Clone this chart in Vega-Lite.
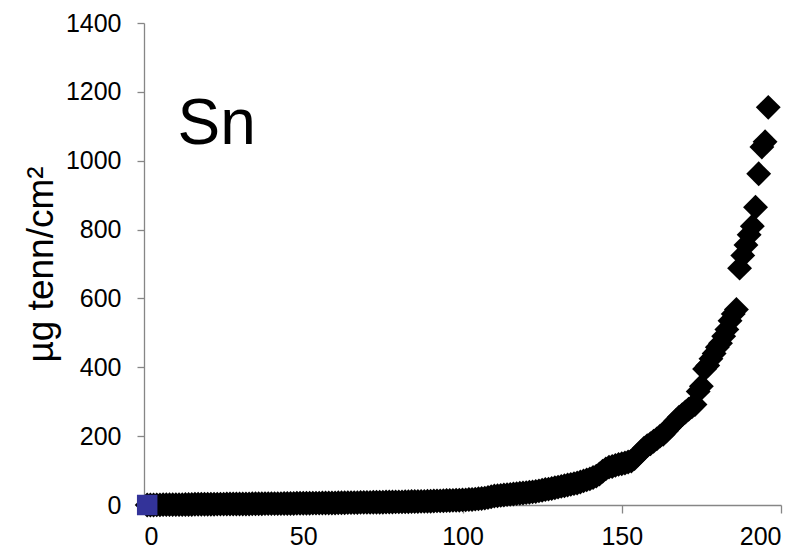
{
  "$schema": "https://vega.github.io/schema/vega-lite/v6.json",
  "autosize": "none",
  "width": 637,
  "height": 482,
  "padding": {"left": 144, "top": 23, "right": 27, "bottom": 45},
  "background": "white",
  "config": {
    "view": {"stroke": null},
    "font": "Liberation Sans",
    "axis": {
      "grid": false,
      "domainColor": "#868686",
      "tickColor": "#868686",
      "domainWidth": 1.3,
      "tickWidth": 1.3,
      "labelFont": "Liberation Sans",
      "labelFontSize": 25,
      "labelColor": "#000000",
      "titleFont": "Liberation Sans",
      "titleFontWeight": "normal",
      "titleColor": "#000000",
      "format": "d"
    },
    "axisX": {"tickSize": 8, "labelPadding": 11},
    "axisY": {"tickSize": 7, "labelPadding": 16, "titleFontSize": 37, "titlePadding": 5}
  },
  "datasets": {
    "sn": [
      {"n":1,"v":0},{"n":2,"v":0},{"n":3,"v":0},{"n":4,"v":0.5},{"n":5,"v":0.5},{"n":6,"v":1},{"n":7,"v":1},{"n":8,"v":1},{"n":9,"v":1},{"n":10,"v":1},
      {"n":11,"v":1},{"n":12,"v":1},{"n":13,"v":1.5},{"n":14,"v":1.5},{"n":15,"v":1.5},{"n":16,"v":2},{"n":17,"v":2},{"n":18,"v":2},{"n":19,"v":2},{"n":20,"v":2},
      {"n":21,"v":2},{"n":22,"v":2},{"n":23,"v":2.5},{"n":24,"v":2.5},{"n":25,"v":2.5},{"n":26,"v":3},{"n":27,"v":3},{"n":28,"v":3},{"n":29,"v":3},{"n":30,"v":3},
      {"n":31,"v":3},{"n":32,"v":3},{"n":33,"v":3},{"n":34,"v":3.5},{"n":35,"v":3.5},{"n":36,"v":3.5},{"n":37,"v":3.5},{"n":38,"v":4},{"n":39,"v":4},{"n":40,"v":4},
      {"n":41,"v":4},{"n":42,"v":4},{"n":43,"v":4},{"n":44,"v":4.5},{"n":45,"v":4.5},{"n":46,"v":4.5},{"n":47,"v":4.5},{"n":48,"v":5},{"n":49,"v":5},{"n":50,"v":5},
      {"n":51,"v":5},{"n":52,"v":5},{"n":53,"v":5.5},{"n":54,"v":5.5},{"n":55,"v":5.5},{"n":56,"v":6},{"n":57,"v":6},{"n":58,"v":6},{"n":59,"v":6},{"n":60,"v":6},
      {"n":61,"v":6.5},{"n":62,"v":6.5},{"n":63,"v":6.5},{"n":64,"v":7},{"n":65,"v":7},{"n":66,"v":7},{"n":67,"v":7},{"n":68,"v":7.5},{"n":69,"v":7.5},{"n":70,"v":7.5},
      {"n":71,"v":7.5},{"n":72,"v":8},{"n":73,"v":8},{"n":74,"v":8},{"n":75,"v":8},{"n":76,"v":8.5},{"n":77,"v":8.5},{"n":78,"v":8.5},{"n":79,"v":9},{"n":80,"v":9},
      {"n":81,"v":9},{"n":82,"v":9.5},{"n":83,"v":9.5},{"n":84,"v":10},{"n":85,"v":10},{"n":86,"v":10},{"n":87,"v":10.5},{"n":88,"v":10.5},{"n":89,"v":11},{"n":90,"v":11},
      {"n":91,"v":11.5},{"n":92,"v":12},{"n":93,"v":12},{"n":94,"v":12.5},{"n":95,"v":13},{"n":96,"v":13},{"n":97,"v":13.5},{"n":98,"v":14},{"n":99,"v":14},{"n":100,"v":15},
      {"n":101,"v":15},{"n":102,"v":16},{"n":103,"v":16},{"n":104,"v":17},{"n":105,"v":18},{"n":106,"v":19},{"n":107,"v":20},{"n":108,"v":22},{"n":109,"v":24},{"n":110,"v":26},
      {"n":111,"v":27},{"n":112,"v":28},{"n":113,"v":29},{"n":114,"v":30},{"n":115,"v":31},{"n":116,"v":32},{"n":117,"v":33},{"n":118,"v":34},{"n":119,"v":35},{"n":120,"v":36},
      {"n":121,"v":37},{"n":122,"v":38},{"n":123,"v":39},{"n":124,"v":41},{"n":125,"v":43},{"n":126,"v":45},{"n":127,"v":46},{"n":128,"v":48},{"n":129,"v":50},{"n":130,"v":52},
      {"n":131,"v":54},{"n":132,"v":56},{"n":133,"v":58},{"n":134,"v":60},{"n":135,"v":62},{"n":136,"v":64},{"n":137,"v":67},{"n":138,"v":70},{"n":139,"v":73},{"n":140,"v":76},
      {"n":141,"v":80},{"n":142,"v":84},{"n":143,"v":90},{"n":144,"v":98},{"n":145,"v":105},{"n":146,"v":110},{"n":147,"v":112},{"n":148,"v":115},{"n":149,"v":118},{"n":150,"v":120},
      {"n":151,"v":122},{"n":152,"v":125},{"n":153,"v":128},{"n":154,"v":135},{"n":155,"v":145},{"n":156,"v":155},{"n":157,"v":165},{"n":158,"v":172},{"n":159,"v":178},{"n":160,"v":185},
      {"n":161,"v":192},{"n":162,"v":200},{"n":163,"v":205},{"n":164,"v":215},{"n":165,"v":225},{"n":166,"v":235},{"n":167,"v":245},{"n":168,"v":255},{"n":169,"v":262},{"n":170,"v":270},
      {"n":171,"v":278},{"n":172,"v":285},{"n":173,"v":292},{"n":174,"v":330},{"n":175,"v":345},{"n":176,"v":395},{"n":177,"v":405},{"n":178,"v":425},{"n":179,"v":440},{"n":180,"v":458},
      {"n":181,"v":470},{"n":182,"v":490},{"n":183,"v":510},{"n":184,"v":535},{"n":185,"v":555},{"n":186,"v":568},{"n":187,"v":688},{"n":188,"v":725},{"n":189,"v":755},{"n":190,"v":785},
      {"n":191,"v":810},{"n":192,"v":865},{"n":193,"v":962},{"n":194,"v":1040},{"n":195,"v":1055},{"n":196,"v":1155}
    ],
    "ref": [{"n":1,"v":0}]
  },
  "layer": [
    {
      "data": {"name": "sn"},
      "mark": {"type": "point", "shape": "diamond", "filled": true, "color": "#000000", "size": 620, "opacity": 1},
      "encoding": {
        "x": {"field": "n", "type": "quantitative",
              "scale": {"domain": [0, 200], "nice": false, "zero": false},
              "axis": {"values": [0, 50, 100, 150, 200], "title": null}},
        "y": {"field": "v", "type": "quantitative",
              "scale": {"domain": [0, 1400], "nice": false},
              "axis": {"values": [0, 200, 400, 600, 800, 1000, 1200, 1400], "title": "µg tenn/cm²"}}
      }
    },
    {
      "data": {"name": "ref"},
      "mark": {"type": "point", "shape": "square", "filled": true, "color": "#333399", "size": 420, "opacity": 1},
      "encoding": {
        "x": {"field": "n", "type": "quantitative"},
        "y": {"field": "v", "type": "quantitative"}
      }
    },
    {
      "data": {"values": [{"label": "Sn"}]},
      "mark": {"type": "text", "align": "left", "baseline": "alphabetic", "fontSize": 64, "font": "Liberation Sans", "color": "#000000"},
      "encoding": {
        "x": {"datum": 10.5, "type": "quantitative"},
        "y": {"datum": 1048, "type": "quantitative"},
        "text": {"field": "label"}
      }
    }
  ]
}
